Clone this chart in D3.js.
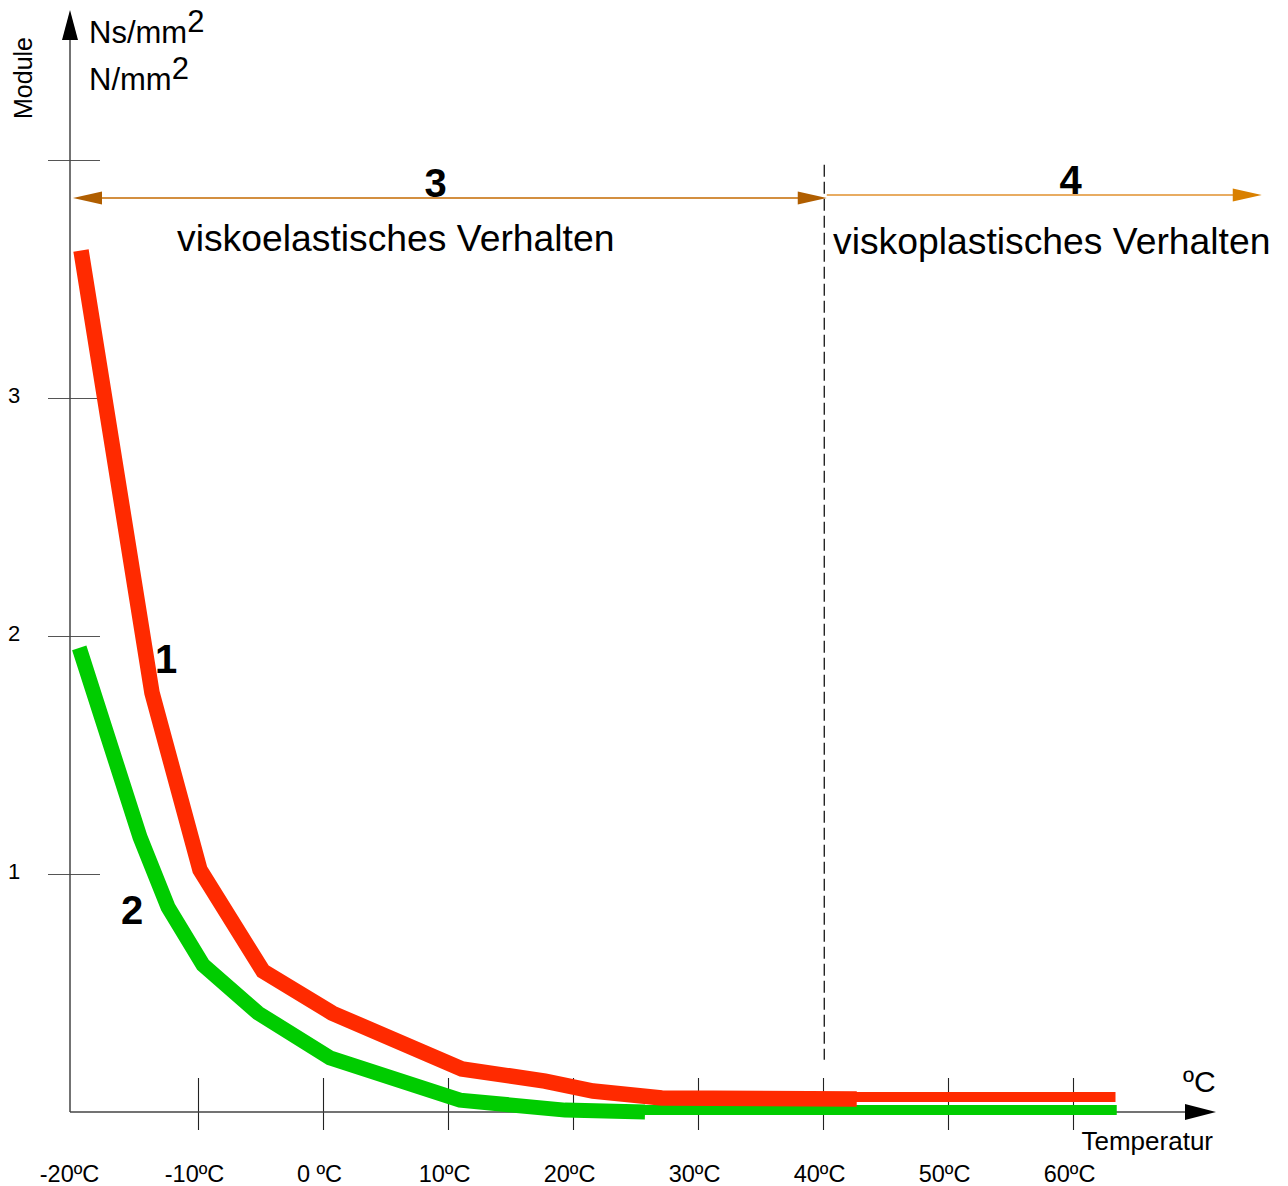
<!DOCTYPE html>
<html><head><meta charset="utf-8">
<script src="https://cdn.jsdelivr.net/npm/d3@7"></script>
<style>
body{margin:0;background:#fff}
svg{display:block}
text{font-family:"Liberation Sans",Arial,Helvetica,sans-serif;fill:#000}
</style>
</head><body>
<svg id="c" width="1288" height="1186"></svg>
<script>
// ---- data ----
const xTicks = [-20, -10, 0, 10, 20, 30, 40, 50, 60];
const xTickLabels = ["-20ºC", "-10ºC", "0 ºC", "10ºC", "20ºC", "30ºC", "40ºC", "50ºC", "60ºC"];
const yTicks = [1, 2, 3, 4];
const yTickLabels = ["1", "2", "3", ""];

// curve 1 (red)
const curve1Temp = [-19.36, -13.68, -9.84, -4.8, 0.72, 11.1, 17.76, 21.6, 27.1, 42.7];
const curve1Val  = [3.62, 1.761, 1.017, 0.592, 0.416, 0.181, 0.130, 0.088, 0.059, 0.055];
const curve1TailTemp = [41.4, 63.4];
const curve1TailVal  = [0.063, 0.063];

// curve 2 (green)
const curve2Temp = [-19.5, -14.64, -12.4, -9.6, -5.2, 0.56, 10.96, 19.36, 25.76];
const curve2Val  = [1.95, 1.155, 0.861, 0.618, 0.416, 0.227, 0.050, 0.008, 0.0];
const curve2TailTemp = [22.0, 63.5];
const curve2TailVal  = [0.008, 0.008];

// regions
const regionBounds = [-20, 40.3, 75.1];
const regionNames = ["3", "4"];
const regionLabelTemp = [9.0, 59.8];
const regionTexts = ["viskoelastisches Verhalten", "viskoplastisches Verhalten"];
const boundaryTemp = 40.1;

// ---- drawing ----
const svg = d3.select("#c");
const x = d3.scaleLinear().domain([-20, 60]).range([73, 1073]);
const y = d3.scaleLinear().domain([0, 4]).range([1112, 160]);
const ox = 70, oy = 1112;
const font = '"Liberation Sans",Arial,Helvetica,sans-serif';

// y ticks
const yAxis = d3.axisLeft(y).tickValues(yTicks).tickFormat((d, i) => yTickLabels[i]);
const gy = svg.append("g").attr("transform", `translate(${ox},0)`).call(yAxis);
gy.select(".domain").remove();
gy.selectAll(".tick line").attr("x1", -22).attr("x2", 30).attr("stroke", "#555").attr("stroke-width", 1.2);
gy.selectAll(".tick text").attr("x", -56).attr("dy", 0).attr("y", 4)
  .attr("text-anchor", "middle").style("font-size", "22px").style("font-family", font).attr("fill", "#000");

// x ticks
const xAxis = d3.axisBottom(x).tickValues(xTicks).tickFormat((d, i) => xTickLabels[i]);
const gx = svg.append("g").attr("transform", `translate(0,${oy})`).call(xAxis);
gx.select(".domain").remove();
gx.selectAll(".tick line").attr("y1", -34).attr("y2", 18).attr("stroke", "#222").attr("stroke-width", 1.1)
  .filter(d => d === -20).remove();
gx.selectAll(".tick text").attr("y", 70).attr("dy", 0).attr("dx", -4)
  .style("font-size", "23.5px").style("font-family", font).attr("fill", "#000");

// axes lines with arrowheads
svg.append("line").attr("x1", ox).attr("y1", oy).attr("x2", ox).attr("y2", 30)
  .attr("stroke", "#444").attr("stroke-width", 1.5);
svg.append("path").attr("d", `M${ox},10 L${ox - 8},40 L${ox + 8},40 Z`).attr("fill", "#000");
svg.append("line").attr("x1", ox).attr("y1", oy).attr("x2", 1195).attr("y2", oy)
  .attr("stroke", "#444").attr("stroke-width", 1.5);
svg.append("path").attr("d", `M1216,${oy} L1185,${oy - 8} L1185,${oy + 8} Z`).attr("fill", "#000");

// axis titles
svg.append("text").attr("transform", "translate(32,78) rotate(-90)").attr("text-anchor", "middle")
  .style("font-size", "25px").text("Module");
const u1 = svg.append("text").attr("x", 89).attr("y", 43).style("font-size", "31px");
u1.append("tspan").text("Ns/mm");
u1.append("tspan").attr("dy", -11).text("2");
const u2 = svg.append("text").attr("x", 89).attr("y", 90).style("font-size", "31px");
u2.append("tspan").text("N/mm");
u2.append("tspan").attr("dy", -11).text("2");
svg.append("text").attr("x", 1183).attr("y", 1092).style("font-size", "30px").text("ºC");
svg.append("text").attr("x", 1213).attr("y", 1150).attr("text-anchor", "end").style("font-size", "26px").text("Temperatur");

// dashed boundary
svg.append("line").attr("x1", x(boundaryTemp)).attr("x2", x(boundaryTemp))
  .attr("y1", y(3.98)).attr("y2", y(0.22))
  .attr("stroke", "#000").attr("stroke-width", 1.2).attr("stroke-dasharray", "12,5");

// region arrows
function arrow(x0, x1, yy, lineCol, headCol, leftHead) {
  svg.append("line").attr("x1", x0 + (leftHead ? 20 : 0)).attr("x2", x1 - 20).attr("y1", yy).attr("y2", yy)
    .attr("stroke", lineCol).attr("stroke-width", 1.5);
  if (leftHead) svg.append("path").attr("d", `M${x0},${yy} L${x0 + 29},${yy - 6.5} L${x0 + 29},${yy + 6.5} Z`).attr("fill", headCol);
  svg.append("path").attr("d", `M${x1},${yy} L${x1 - 29},${yy - 6.5} L${x1 - 29},${yy + 6.5} Z`).attr("fill", headCol);
}
arrow(x(regionBounds[0]), x(regionBounds[1]), 198, "#c46a00", "#b05e00", true);
arrow(x(regionBounds[1]), x(regionBounds[2]), 195, "#e0902e", "#d98000", false);

svg.append("text").attr("x", x(regionLabelTemp[0])).attr("y", 197).attr("text-anchor", "middle")
  .style("font-size", "40px").style("font-weight", "bold").text(regionNames[0]);
svg.append("text").attr("x", x(regionLabelTemp[1])).attr("y", 194).attr("text-anchor", "middle")
  .style("font-size", "40px").style("font-weight", "bold").text(regionNames[1]);
svg.append("text").attr("x", 177).attr("y", 251).style("font-size", "37.3px").text(regionTexts[0]);
svg.append("text").attr("x", 833).attr("y", 254).style("font-size", "37.3px").text(regionTexts[1]);

// curves
const line = d3.line().x(d => x(d[0])).y(d => y(d[1]));
const zip = (a, b) => a.map((v, i) => [v, b[i]]);
svg.append("path").datum(zip(curve2TailTemp, curve2TailVal)).attr("d", line)
  .attr("fill", "none").attr("stroke", "#00cc00").attr("stroke-width", 10);
svg.append("path").datum(zip(curve1TailTemp, curve1TailVal)).attr("d", line)
  .attr("fill", "none").attr("stroke", "#ff2a00").attr("stroke-width", 10);
svg.append("path").datum(zip(curve2Temp, curve2Val)).attr("d", line)
  .attr("fill", "none").attr("stroke", "#00cc00").attr("stroke-width", 15).attr("stroke-linejoin", "miter");
svg.append("path").datum(zip(curve1Temp, curve1Val)).attr("d", line)
  .attr("fill", "none").attr("stroke", "#ff2a00").attr("stroke-width", 15.5).attr("stroke-linejoin", "miter");

// curve labels
svg.append("text").attr("x", 166).attr("y", 673).attr("text-anchor", "middle")
  .style("font-size", "40px").style("font-weight", "bold").text("1");
svg.append("text").attr("x", 132).attr("y", 924).attr("text-anchor", "middle")
  .style("font-size", "40px").style("font-weight", "bold").text("2");
</script>
</body></html>
